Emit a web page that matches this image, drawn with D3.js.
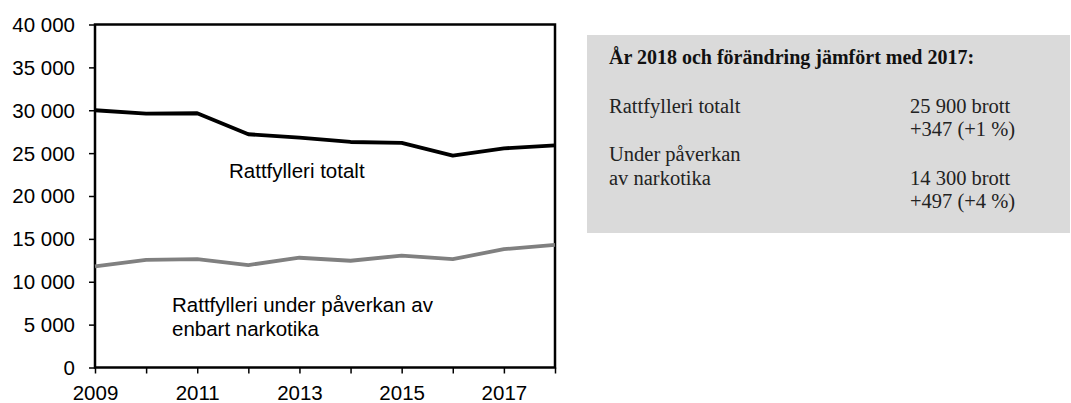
<!DOCTYPE html>
<html>
<head>
<meta charset="utf-8">
<script src="https://cdn.jsdelivr.net/npm/d3@7"></script>
<style>
  html, body { margin: 0; padding: 0; background: #fff; }
  svg { display: block; }
</style>
</head>
<body>
<svg id="chart" width="1071" height="403"></svg>
<script>
// Rattfylleri 2009–2018
const years = [2009, 2010, 2011, 2012, 2013, 2014, 2015, 2016, 2017, 2018];
const totalt = [30000, 29600, 29650, 27200, 26800, 26300, 26200, 24700, 25553, 25900];
const narkotika = [11800, 12550, 12650, 11950, 12800, 12450, 13050, 12630, 13803, 14300];
const yTicks = [0, 5000, 10000, 15000, 20000, 25000, 30000, 35000, 40000];
const xTickLabels = [2009, 2011, 2013, 2015, 2017];

const boxTitle = "År 2018 och förändring jämfört med 2017:";
const boxRows = [
  { label: ["Rattfylleri totalt"], value: ["25 900 brott", "+347 (+1 %)"] },
  { label: ["Under påverkan", "av narkotika"], value: ["14 300 brott", "+497 (+4 %)"] }
];

const svg = d3.select("#chart");
const plot = { left: 95, right: 555, top: 24.5, bottom: 367.5 };

const x = d3.scaleLinear().domain([2009, 2018]).range([plot.left, plot.right]);
const y = d3.scaleLinear().domain([0, 40000]).range([plot.bottom, plot.top]);

const sv = d3.formatLocale({ decimal: ",", thousands: " ", grouping: [3], currency: ["", " kr"] });
const fmt = sv.format(",d");
const sans = "Liberation Sans, Arial, sans-serif";
const serif = "Liberation Serif, Times New Roman, serif";

// y axis
const yAxis = svg.append("g")
  .attr("transform", `translate(${plot.left},0)`)
  .call(d3.axisLeft(y).tickValues(yTicks).tickFormat(fmt).tickSize(6).tickPadding(14));
yAxis.select(".domain").remove();
yAxis.selectAll("line").attr("stroke", "#000").attr("stroke-width", 1.5);
yAxis.selectAll("text")
  .attr("font-family", sans)
  .attr("font-size", 20.5).attr("fill", "#000").attr("dy", "0.34em");

// x axis
const xAxis = svg.append("g")
  .attr("transform", `translate(0,${plot.bottom})`)
  .call(d3.axisBottom(x).tickValues(years).tickFormat(d => xTickLabels.includes(d) ? d : "")
    .tickSize(6).tickPadding(12));
xAxis.select(".domain").remove();
xAxis.selectAll("line").attr("stroke", "#000").attr("stroke-width", 1.5);
xAxis.selectAll("text")
  .attr("font-family", sans)
  .attr("font-size", 20.5).attr("fill", "#000");

// plot frame
svg.append("rect")
  .attr("x", plot.left).attr("y", plot.top)
  .attr("width", plot.right - plot.left).attr("height", plot.bottom - plot.top)
  .attr("fill", "none").attr("stroke", "#000").attr("stroke-width", 2.5);

const line = d3.line().x((d, i) => x(years[i])).y(d => y(d));

svg.append("path").datum(narkotika)
  .attr("d", line).attr("fill", "none")
  .attr("stroke", "#808080").attr("stroke-width", 3.8).attr("stroke-linejoin", "round");

svg.append("path").datum(totalt)
  .attr("d", line).attr("fill", "none")
  .attr("stroke", "#000").attr("stroke-width", 3.8).attr("stroke-linejoin", "round");

// series labels
svg.append("text").attr("x", 229).attr("y", 177.5)
  .attr("font-family", sans).attr("font-size", 20.5).text("Rattfylleri totalt");
const nl = svg.append("text").attr("font-family", sans).attr("font-size", 20.5);
nl.append("tspan").attr("x", 172).attr("y", 311.5).text("Rattfylleri under påverkan av");
nl.append("tspan").attr("x", 172).attr("y", 335.5).text("enbart narkotika");

// summary box
svg.append("rect").attr("x", 587).attr("y", 35).attr("width", 483).attr("height", 198)
  .attr("fill", "#dadada");
svg.append("text").attr("x", 609).attr("y", 63.5)
  .attr("font-family", serif).attr("font-size", 20).attr("font-weight", "bold")
  .attr("fill", "#111").text(boxTitle);

const rowTop = [112.7, 161];
const lh = 23.6;
boxRows.forEach((r, i) => {
  const valueStart = rowTop[i] + (r.label.length - 1) * lh;
  r.label.forEach((t, j) => {
    svg.append("text").attr("x", 609).attr("y", rowTop[i] + j * lh)
      .attr("font-family", serif).attr("font-size", 20.5).attr("fill", "#222").text(t);
  });
  r.value.forEach((t, j) => {
    svg.append("text").attr("x", 910).attr("y", valueStart + j * lh)
      .attr("font-family", serif).attr("font-size", 20.5).attr("fill", "#222").text(t);
  });
});
</script>
</body>
</html>
